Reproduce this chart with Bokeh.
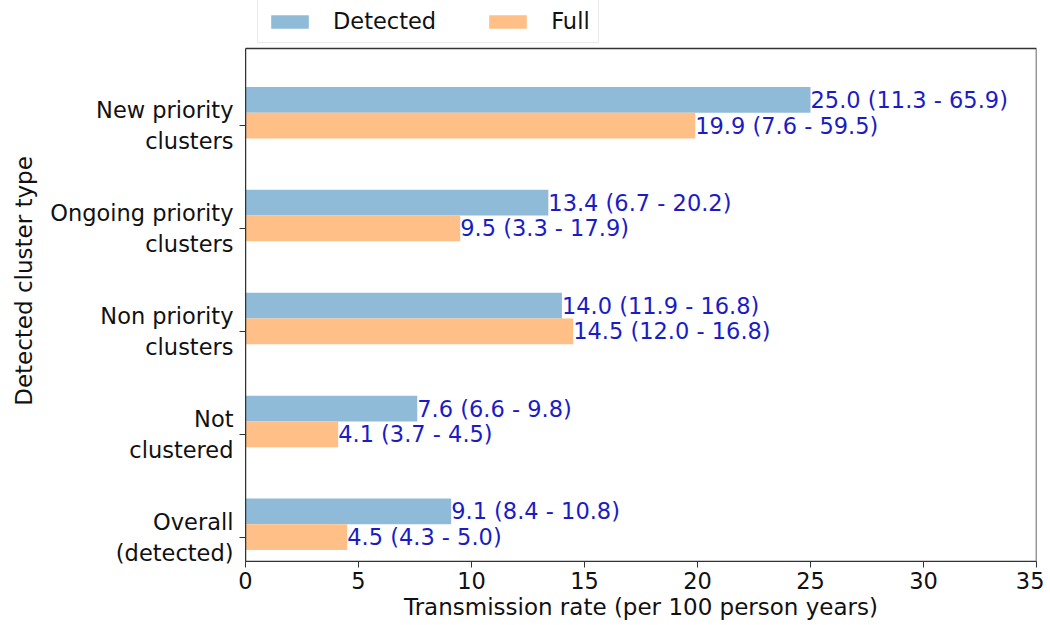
from bokeh.plotting import figure
from bokeh.models import ColumnDataSource, Legend, LegendItem, FixedTicker, Range1d, BoxAnnotation
from bokeh.core.properties import value
from bokeh.embed import file_html
from bokeh.resources import INLINE

categories = ["New priority\nclusters", "Ongoing priority\nclusters", "Non priority\nclusters",
              "Not\nclustered", "Overall\n(detected)"]
detected = [25.0, 13.4, 14.0, 7.6, 9.1]
full = [19.9, 9.5, 14.5, 4.1, 4.5]
detected_lo = [11.3, 6.7, 11.9, 6.6, 8.4]
detected_hi = [65.9, 20.2, 16.8, 9.8, 10.8]
full_lo = [7.6, 3.3, 12.0, 3.7, 4.3]
full_hi = [59.5, 17.9, 16.8, 4.5, 5.0]
x_ticks = [0, 5, 10, 15, 20, 25, 30, 35]

n = len(categories)
pos = [n - 1 - i for i in range(n)]
FONT = "DejaVu Sans"
FS = "22.5px"
Y_LO, Y_TOP_AXES, Y_TOP = -0.236, 4.748, 5.215

p = figure(frame_width=791, frame_height=561, output_backend="svg", toolbar_location=None,
           x_range=Range1d(0, 35), y_range=Range1d(Y_LO, Y_TOP),
           min_border_left=245, min_border_right=8, min_border_top=0, min_border_bottom=60)

src_d = ColumnDataSource(dict(y=[v + 0.25 for v in pos], right=detected,
                              lab=[f"{v:.1f} ({a:.1f} - {b:.1f})" for v, a, b in zip(detected, detected_lo, detected_hi)]))
src_f = ColumnDataSource(dict(y=pos, right=full,
                              lab=[f"{v:.1f} ({a:.1f} - {b:.1f})" for v, a, b in zip(full, full_lo, full_hi)]))

rd = p.hbar(y="y", right="right", left=0, height=0.25, source=src_d, fill_color="#8fbbd9", line_color=None)
rf = p.hbar(y="y", right="right", left=0, height=0.25, source=src_f, fill_color="#ffbf86", line_color=None)

for s in (src_d, src_f):
    p.text(x="right", y="y", text="lab", source=s, text_align="left", text_baseline="middle",
           text_font=value(FONT), text_font_size=FS, text_color="#1c1cc4")

p.xaxis.ticker = FixedTicker(ticks=x_ticks)
p.yaxis.ticker = FixedTicker(ticks=pos)
p.yaxis.major_label_overrides = {pos[i]: categories[i] for i in range(n)}
p.yaxis.bounds = (Y_LO, Y_TOP_AXES)
p.xaxis.axis_label = "Transmission rate (per 100 person years)"
p.yaxis.axis_label = "Detected cluster type"

for ax in (p.xaxis[0], p.yaxis[0]):
    ax.major_label_text_font = FONT
    ax.major_label_text_font_size = FS
    ax.major_label_text_color = "#111111"
    ax.axis_label_text_font = FONT
    ax.axis_label_text_font_size = "23px"
    ax.axis_label_text_font_style = "normal"
    ax.axis_label_text_color = "#111111"
    ax.minor_tick_line_color = None
    ax.major_tick_out = 6
    ax.major_tick_in = 0
    ax.axis_line_color = "#333333"
    ax.major_tick_line_color = "#333333"
p.xaxis.axis_label_standoff = 2
p.xaxis.major_label_standoff = 4
p.yaxis.axis_label_standoff = 10
p.yaxis.major_label_standoff = 6

p.xgrid.grid_line_color = None
p.ygrid.grid_line_color = None
p.outline_line_color = None

box = BoxAnnotation(left=0, right=35, bottom=Y_LO, top=Y_TOP_AXES, fill_alpha=0, fill_color=None,
                    line_color="#333333", line_alpha=1, line_width=1.5)
p.add_layout(box)

legend = Legend(items=[LegendItem(label="Detected", renderers=[rd]), LegendItem(label="Full", renderers=[rf])],
                orientation="horizontal", location=(12, 518))
legend.label_text_font = FONT
legend.label_text_font_size = FS
legend.label_text_color = "#111111"
legend.glyph_width = 47
legend.glyph_height = 17
legend.spacing = 48
legend.label_standoff = 20
legend.padding = 8
legend.margin = 0
legend.border_line_color = "#d6d6d6"
legend.border_line_width = 1
p.add_layout(legend)

open("out.html", "w").write(file_html(p, INLINE))
